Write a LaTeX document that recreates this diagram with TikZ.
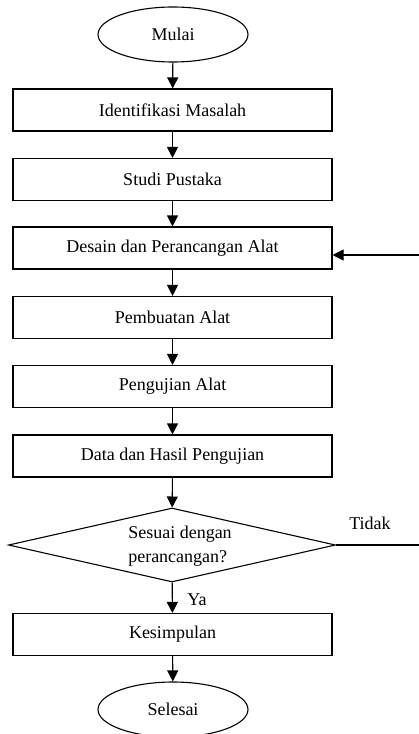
\documentclass[tikz,border=0pt]{standalone}
\usepackage{fontspec}
\setmainfont{Liberation Serif}
\usetikzlibrary{shapes.geometric}
\usetikzlibrary{arrows.meta}
\tikzset{
  kotak/.style={draw, line width=1.1pt, minimum width=319pt, minimum height=42pt, inner sep=0pt},
  terminal/.style={draw, ellipse, line width=1.1pt, minimum width=150pt, minimum height=55pt, inner sep=0pt},
  keputusan/.style={draw, diamond, line width=1.1pt, minimum width=327pt, minimum height=74pt, aspect=4.4, inner sep=0pt},
  alur/.style={line width=1.1pt, -{Triangle[width=11pt,length=11pt]}},
  garis/.style={line width=1.1pt}
}
\newcommand{\langkah}[4]{\node[kotak] (#1) at ( #2 , #3 ) {#4};}
\newcommand{\ujung}[4]{\node[terminal] (#1) at ( #2 , #3 ) {#4};}
\newcommand{\lablnode}[3]{\node[inner sep=0pt] (#1) at ( #2 ) {#3};}

\begin{document}
\begin{tikzpicture}[x=1pt, y=-1pt, font=\fontsize{18}{24}\selectfont]
        \useasboundingbox (0,0) rectangle (419,734);

        % mulai
        \ujung{mulai}{173}{34.5}{Mulai}

        % proses
        \langkah{identifikasi}{172.5}{110}{Identifikasi Masalah}
        \langkah{studi}{172.5}{179.5}{Studi Pustaka}
        \langkah{desain}{172.5}{248}{Desain dan Perancangan Alat}
        \langkah{pembuatan}{172.5}{317.5}{Pembuatan Alat}
        \langkah{pengujian}{172.5}{386.5}{Pengujian Alat}
        \langkah{data}{172.5}{456}{Data dan Hasil Pengujian}

        % cek
        \node[keputusan] (cek) at (172, 545) {};
        \node[align=left, inner sep=0pt] (cektext) at (180, 546) {Sesuai dengan\\perancangan?};

        \langkah{kesimpulan}{172.5}{634.5}{Kesimpulan}

        % selesai
        \ujung{selesai}{173}{709.5}{Selesai}

        % panah
        \draw[alur] (mulai) -- (identifikasi);
        \draw[alur] (identifikasi) -- (studi);
        \draw[alur] (studi) -- (desain);
        \draw[alur] (desain) -- (pembuatan);
        \draw[alur] (pembuatan) -- (pengujian);
        \draw[alur] (pengujian) -- (data);
        \draw[alur] (data) -- (cek);
        \draw[alur] (cek) -- (kesimpulan);
        \draw[alur] (kesimpulan) -- (selesai);

        % balik
        \coordinate (fbbot) at (425, 545);
        \coordinate (fbtop) at (425, 255);
        \draw[garis] (cek.east) -- (fbbot) -- (fbtop);
        \draw[alur] (fbtop) -- (fbtop -| desain.east);

        \lablnode{tidak}{370, 523}{Tidak}
        \lablnode{ya}{197, 600}{Ya}
\end{tikzpicture}
\end{document}
